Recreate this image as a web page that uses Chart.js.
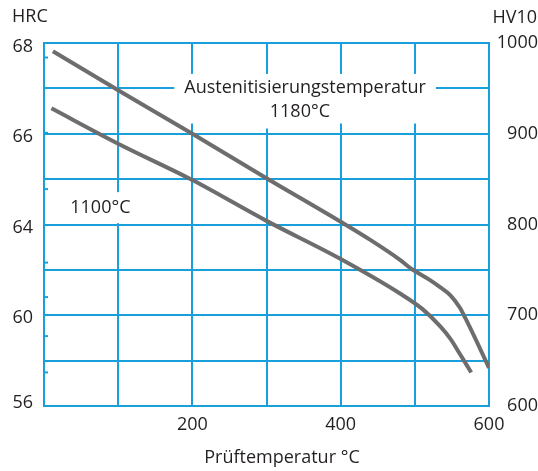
<!DOCTYPE html>
<html><head><meta charset="utf-8">
<script src="https://cdn.jsdelivr.net/npm/chart.js@4.4.1/dist/chart.umd.min.js"></script>
<style>html,body{margin:0;padding:0;background:#fff}#wrap{width:538px;height:471px;position:relative}</style>
</head><body><div id="wrap"><canvas id="c"></canvas></div>
<script>
// ---- data (x: Prüftemperatur °C, y: HV10) ----
const temp1180 = [12, 100, 200, 300, 400, 440, 480, 494, 520, 534, 548, 561, 568, 584, 600];
const hv1180   = [991, 948, 900, 851, 803, 783, 761, 752, 739, 731, 722, 708, 697, 670, 642];
const temp1100 = [10, 100, 200, 300, 400, 480, 510, 534, 548, 561, 576];
const hv1100   = [928, 889, 849, 804, 762, 724, 707, 688, 674, 657, 637];

// ---- axes ----
const xTickLabels = [200, 400, 600];
const hvTickLabels = [600, 700, 800, 900, 1000];
const hrcLabels = ['68', '66', '64', '60', '56'];
const hrcLabelHV = [996, 897, 796, 697, 603];
const hrcMinorTickHV = [984, 901, 839, 758, 720, 677, 637];

// ---- texts ----
const titleLeft = 'HRC';
const titleRight = 'HV10';
const titleX = 'Prüftemperatur °C';
const labelAusten = 'Austenitisierungstemperatur';
const label1180 = '1180°C';
const label1100 = '1100°C';

const GRID = '#19a0dc';
const CURVE = '#6d6d6d';
const TEXT = '#231f20';
const FONT = '"Open Sans", Lato, sans-serif';
const FS = 18;

const toPts = (xs, ys) => xs.map((x, i) => ({x, y: ys[i]}));

const deco = {
  id: 'deco',
  beforeDatasetsDraw(chart) {
    const ctx = chart.ctx, xs = chart.scales.x, ys = chart.scales.y;
    ctx.save();
    ctx.font = FS + 'px ' + FONT;
    ctx.fillStyle = '#fff';
    const ax = xs.getPixelForValue(352), ay = ys.getPixelForValue(950.5);
    const w1 = ctx.measureText(labelAusten).width;
    const by = ys.getPixelForValue(924.5);
    ctx.fillRect(ax - w1 / 2 - 10, ay - 14, w1 + 20, (by + 12) - (ay - 14));
    const bx = xs.getPixelForValue(345);
    const w2 = ctx.measureText(label1180).width;
    ctx.fillRect(bx - w2 / 2 - 8, ay, w2 + 16, (by + 17) - ay);
    const cx = xs.getPixelForValue(76), cy = ys.getPixelForValue(818);
    const w3 = ctx.measureText(label1100).width;
    ctx.fillRect(cx - w3 / 2 - 6, cy - 16, w3 + 12, 31);
    ctx.restore();
  },
  afterDatasetsDraw(chart) {
    const ctx = chart.ctx, xs = chart.scales.x, ys = chart.scales.y, a = chart.chartArea;
    ctx.save();
    ctx.strokeStyle = GRID; ctx.lineWidth = 2;
    hrcMinorTickHV.forEach(v => {
      const y = ys.getPixelForValue(v);
      ctx.beginPath(); ctx.moveTo(a.left, y); ctx.lineTo(a.left + 4, y); ctx.stroke();
    });
    ctx.fillStyle = TEXT;
    ctx.font = FS + 'px ' + FONT;
    ctx.textBaseline = 'middle';
    ctx.textAlign = 'center';
    ctx.fillText(labelAusten, xs.getPixelForValue(352), ys.getPixelForValue(950.5));
    ctx.fillText(label1180, xs.getPixelForValue(345), ys.getPixelForValue(924.5));
    ctx.fillText(label1100, xs.getPixelForValue(76), ys.getPixelForValue(818));
    ctx.textAlign = 'left';
    ctx.fillText(titleLeft, 12, 17);
    ctx.textAlign = 'right';
    ctx.fillText(titleRight, 537, 18);
    ctx.textAlign = 'center';
    ctx.fillText(titleX, 282, 458);
    ctx.restore();
  }
};

new Chart(document.getElementById('c'), {
  type: 'line',
  data: {
    datasets: [
      {label: '1180°C', data: toPts(temp1180, hv1180), borderColor: CURVE, borderWidth: 4,
       pointRadius: 0, cubicInterpolationMode: 'monotone', fill: false, yAxisID: 'y', borderCapStyle: 'butt'},
      {label: '1100°C', data: toPts(temp1100, hv1100), borderColor: CURVE, borderWidth: 4,
       pointRadius: 0, cubicInterpolationMode: 'monotone', fill: false, yAxisID: 'y', borderCapStyle: 'butt'}
    ]
  },
  options: {
    responsive: true, maintainAspectRatio: false, animation: false, devicePixelRatio: 1,
    layout: {padding: {top: 43, left: 0, right: 0, bottom: 0}},
    plugins: {legend: {display: false}, tooltip: {enabled: false}, title: {display: false}},
    scales: {
      x: {
        type: 'linear', position: 'bottom', min: 0, max: 600,
        afterFit(s) { s.height = 65; },
        grid: {color: GRID, lineWidth: 2, drawTicks: false},
        border: {color: GRID, width: 2},
        ticks: {stepSize: 100, padding: 8, color: TEXT, font: {family: FONT, size: FS}, maxRotation: 0,
          callback: v => xTickLabels.includes(v) ? String(v) : ''}
      },
      y: {
        type: 'linear', position: 'right', min: 600, max: 1000,
        afterFit(s) { s.width = 49; },
        grid: {color: GRID, lineWidth: 2, drawTicks: false},
        border: {color: GRID, width: 2},
        ticks: {stepSize: 50, padding: 6, crossAlign: 'far', color: TEXT, font: {family: FONT, size: FS},
          callback: v => hvTickLabels.includes(v) ? String(v) : ''}
      },
      yL: {
        type: 'linear', position: 'left', min: 600, max: 1000,
        afterFit(s) { s.width = 44; },
        afterBuildTicks(s) { s.ticks = hrcLabelHV.map(v => ({value: v})); },
        grid: {drawOnChartArea: false, drawTicks: false},
        border: {color: GRID, width: 2},
        ticks: {padding: 11, color: TEXT, font: {family: FONT, size: FS},
          callback: v => { const i = hrcLabelHV.indexOf(v); return i >= 0 ? hrcLabels[i] : ''; }}
      }
    }
  },
  plugins: [deco]
});
</script>
</body></html>
